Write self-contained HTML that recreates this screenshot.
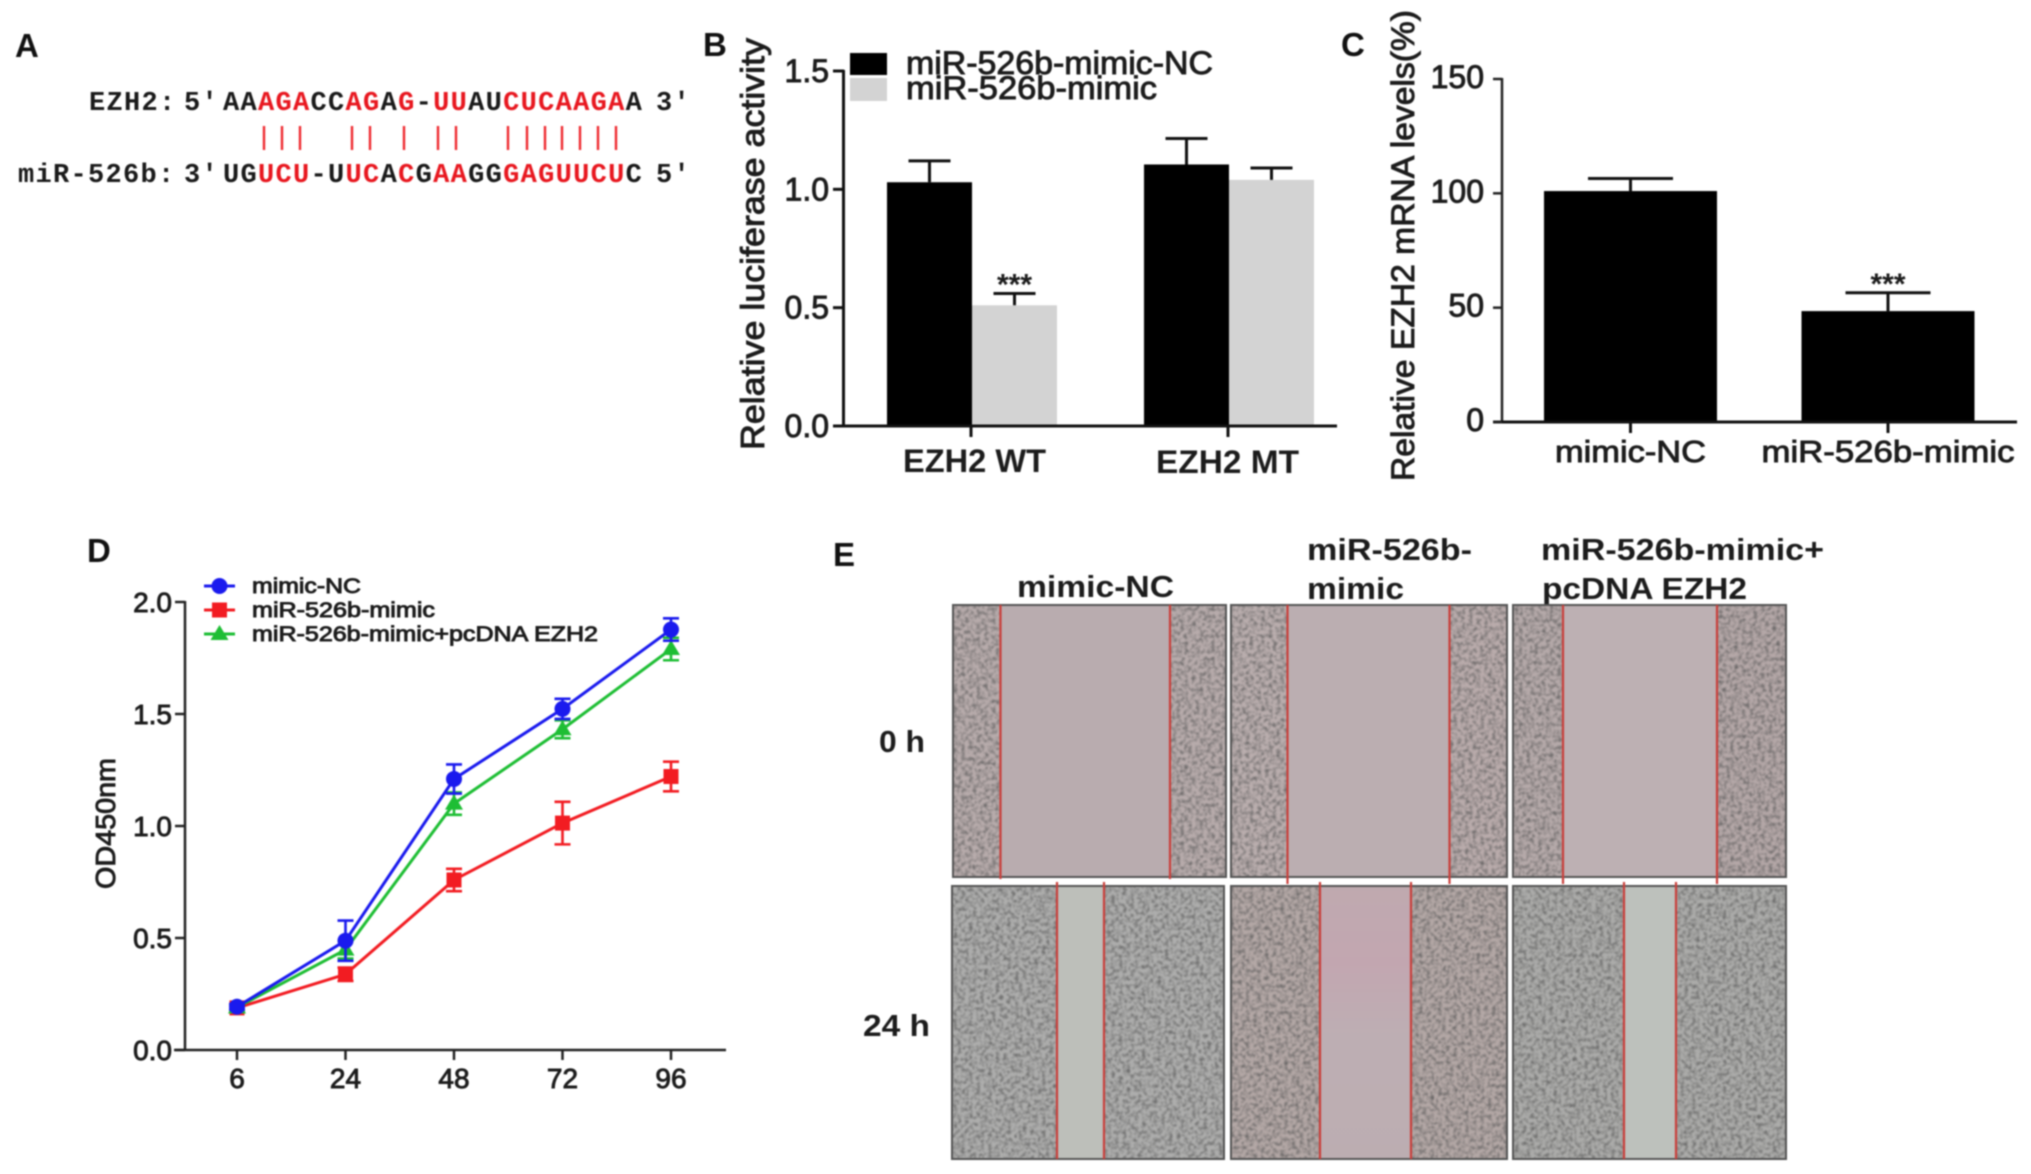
<!DOCTYPE html>
<html lang="en">
<head>
<meta charset="utf-8">
<title>EZH2 / miR-526b figure</title>
<style>
html,body{margin:0;padding:0;background:#fff;}
#figure{display:block;width:2031px;height:1174px;filter:blur(.7px);font-family:"Liberation Sans",sans-serif;}
text{font-family:"Liberation Sans",sans-serif;fill:#1c1c1c;}
.med{stroke:#1c1c1c;stroke-width:.9px;}
.seq{font-family:"Liberation Mono",monospace;font-size:27px;font-weight:700;letter-spacing:1.3px;fill:#1a1a1a;}
.seq tspan.r{fill:#e8171f;}
.panel{font-size:33px;font-weight:700;fill:#111;}
.hdr{font-size:31px;font-weight:700;}
.red{stroke:#c9403c;stroke-width:2.2;}
</style>
</head>
<body>
<svg id="figure" xmlns="http://www.w3.org/2000/svg" width="2031" height="1174" viewBox="0 0 2031 1174">
<defs>
<filter id="grain" x="0" y="0" width="100%" height="100%" color-interpolation-filters="sRGB">
<feTurbulence type="fractalNoise" baseFrequency="0.26" numOctaves="2" seed="4"/>
<feColorMatrix values="0 0 0 0 .33  0 0 0 0 .33  0 0 0 0 .33  1.7 0 0 0 -.68"/>
<feGaussianBlur stdDeviation=".5"/>
</filter>
<linearGradient id="pink-wound" x1="0" y1="0" x2="0" y2="1">
<stop offset="0" stop-color="#bfa9af"/><stop offset=".28" stop-color="#c2a6b0"/><stop offset=".55" stop-color="#bdaeb3"/><stop offset="1" stop-color="#bcadb1"/>
</linearGradient>
</defs>
<rect width="2031" height="1174" fill="#fff"/>

<g>
<text class="panel" x="15" y="57">A</text>
<text class="seq" x="89" y="110">EZH2:</text>
<text class="seq" x="184" y="110">5'</text>
<text class="seq" x="223" y="110">AA<tspan class="r">AGA</tspan>CC<tspan class="r">AG</tspan>A<tspan class="r">G</tspan>-<tspan class="r">UU</tspan>AU<tspan class="r">CUCAAGA</tspan>A</text>
<text class="seq" x="656" y="110">3'</text>
<g stroke="#ee2a30" stroke-width="2.4">
<line x1="264" y1="126" x2="264" y2="150"/><line x1="282" y1="126" x2="282" y2="150"/><line x1="300" y1="126" x2="300" y2="150"/>
<line x1="352" y1="126" x2="352" y2="150"/><line x1="370" y1="126" x2="370" y2="150"/><line x1="404" y1="126" x2="404" y2="150"/>
<line x1="438" y1="126" x2="438" y2="150"/><line x1="456" y1="126" x2="456" y2="150"/><line x1="508" y1="126" x2="508" y2="150"/>
<line x1="527" y1="126" x2="527" y2="150"/><line x1="545" y1="126" x2="545" y2="150"/><line x1="562" y1="126" x2="562" y2="150"/>
<line x1="580" y1="126" x2="580" y2="150"/><line x1="598" y1="126" x2="598" y2="150"/><line x1="616" y1="126" x2="616" y2="150"/>
</g>
<text class="seq" x="18" y="182">miR-526b:</text>
<text class="seq" x="184" y="182">3'</text>
<text class="seq" x="223" y="182">UG<tspan class="r">UCU</tspan>-U<tspan class="r">UC</tspan>A<tspan class="r">C</tspan>G<tspan class="r">AA</tspan>GG<tspan class="r">GAGUUCU</tspan>C</text>
<text class="seq" x="656" y="182">5'</text>
</g>

<g id="panel-b"></g>
<g id="panel-c"></g>
<g id="panel-d"></g>

<g>
<text class="panel" x="833" y="566">E</text>
<text class="hdr" x="1017" y="597" textLength="157" lengthAdjust="spacingAndGlyphs">mimic-NC</text>
<text class="hdr" x="1307" y="560" textLength="165" lengthAdjust="spacingAndGlyphs">miR-526b-</text>
<text class="hdr" x="1307" y="599" textLength="97" lengthAdjust="spacingAndGlyphs">mimic</text>
<text class="hdr" x="1541" y="560" textLength="283" lengthAdjust="spacingAndGlyphs">miR-526b-mimic+</text>
<text class="hdr" x="1542" y="599" textLength="205" lengthAdjust="spacingAndGlyphs">pcDNA EZH2</text>
<text class="hdr" x="879" y="752" textLength="46" lengthAdjust="spacingAndGlyphs">0 h</text>
<text class="hdr" x="863" y="1036" textLength="67" lengthAdjust="spacingAndGlyphs">24 h</text>

<g>
<rect x="953" y="605" width="273" height="272" fill="#b9acaf"/>
<rect x="953" y="605" width="47" height="272" fill="#b8acac"/><rect x="953" y="605" width="47" height="272" filter="url(#grain)"/>
<rect x="1170" y="605" width="56" height="272" fill="#b8acac"/><rect x="1170" y="605" width="56" height="272" filter="url(#grain)"/>
<rect x="953" y="605" width="273" height="272" fill="none" stroke="#555" stroke-width="2"/>
<line class="red" x1="1000.5" y1="605" x2="1000.5" y2="879"/><line class="red" x1="1170" y1="605" x2="1170" y2="879"/>
</g>
<g>
<rect x="1231" y="605" width="276" height="272" fill="#bbaeb1"/>
<rect x="1231" y="605" width="57" height="272" fill="#baaeae"/><rect x="1231" y="605" width="57" height="272" filter="url(#grain)"/>
<rect x="1450" y="605" width="57" height="272" fill="#baacac"/><rect x="1450" y="605" width="57" height="272" filter="url(#grain)"/>
<rect x="1231" y="605" width="276" height="272" fill="none" stroke="#555" stroke-width="2"/>
<line class="red" x1="1287.5" y1="605" x2="1287.5" y2="884"/><line class="red" x1="1449.5" y1="605" x2="1449.5" y2="884"/>
</g>
<g>
<rect x="1513" y="605" width="273" height="272" fill="#bdb0b3"/>
<rect x="1513" y="605" width="50" height="272" fill="#b6aaaa"/><rect x="1513" y="605" width="50" height="272" filter="url(#grain)"/>
<rect x="1717" y="605" width="69" height="272" fill="#b5a8a8"/><rect x="1717" y="605" width="69" height="272" filter="url(#grain)"/>
<rect x="1513" y="605" width="273" height="272" fill="none" stroke="#555" stroke-width="2"/>
<line class="red" x1="1563" y1="605" x2="1563" y2="884"/><line class="red" x1="1717" y1="605" x2="1717" y2="884"/>
</g>
<g>
<rect x="952" y="886" width="272" height="273" fill="#aeaead"/><rect x="952" y="886" width="105" height="273" filter="url(#grain)"/><rect x="1104" y="886" width="120" height="273" filter="url(#grain)"/>
<rect x="1057" y="886" width="47" height="273" fill="#bdbfba"/>
<rect x="952" y="886" width="272" height="273" fill="none" stroke="#555" stroke-width="2"/>
<line class="red" x1="1057" y1="882" x2="1057" y2="1159"/><line class="red" x1="1104" y1="882" x2="1104" y2="1159"/>
</g>
<g>
<rect x="1231" y="886" width="276" height="273" fill="#b4a8a6"/><rect x="1231" y="886" width="89" height="273" filter="url(#grain)"/><rect x="1411" y="886" width="96" height="273" filter="url(#grain)"/>
<rect x="1320" y="886" width="91" height="273" fill="url(#pink-wound)"/>
<rect x="1231" y="886" width="276" height="273" fill="none" stroke="#555" stroke-width="2"/>
<line class="red" x1="1320" y1="882" x2="1320" y2="1159"/><line class="red" x1="1411" y1="882" x2="1411" y2="1159"/>
</g>
<g>
<rect x="1513" y="886" width="273" height="273" fill="#acacaa"/><rect x="1513" y="886" width="111" height="273" filter="url(#grain)"/><rect x="1676" y="886" width="110" height="273" filter="url(#grain)"/>
<rect x="1624" y="886" width="52" height="273" fill="#bdc1bc"/>
<rect x="1513" y="886" width="273" height="273" fill="none" stroke="#555" stroke-width="2"/>
<line class="red" x1="1624" y1="882" x2="1624" y2="1159"/><line class="red" x1="1676" y1="882" x2="1676" y2="1159"/>
</g>
</g>
</svg>

<script>
// Panel B data
const bGroups = ['EZH2 WT', 'EZH2 MT'];
const bNames = ['miR-526b-mimic-NC', 'miR-526b-mimic'];
const bNC = [1.03, 1.105];
const bNCErr = [0.09, 0.11];
const bMimic = [0.51, 1.04];
const bMimicErr = [0.05, 0.05];
const bTicks = [0, 0.5, 1.0, 1.5];
const bStars = ['***', ''];

// Panel C data
const cCategories = ['mimic-NC', 'miR-526b-mimic'];
const cValues = [101, 48.5];
const cErr = [5.5, 8];
const cTicks = [0, 50, 100, 150];
const cStars = ['', '***'];

// Panel D data
const dHours = ['6', '24', '48', '72', '96'];
const dBlue = [0.193, 0.488, 1.21, 1.523, 1.877];
const dBlueErr = [0.012, 0.09, 0.065, 0.045, 0.05];
const dRed = [0.188, 0.338, 0.759, 1.013, 1.221];
const dRedErr = [0.012, 0.03, 0.05, 0.095, 0.066];
const dGreen = [0.19, 0.448, 1.10, 1.432, 1.79];
const dGreenErr = [0.012, 0.04, 0.05, 0.04, 0.05];
const dTicks = [0, 0.5, 1.0, 1.5, 2.0];

const NS = 'http://www.w3.org/2000/svg';
function mk(parent, tag, attrs, txt) {
  const el = document.createElementNS(NS, tag);
  for (const k in attrs) el.setAttribute(k, attrs[k]);
  if (txt !== undefined) el.textContent = txt;
  parent.appendChild(el);
  return el;
}
function line(parent, x1, y1, x2, y2, stroke, w) {
  return mk(parent, 'line', {x1: x1, y1: y1, x2: x2, y2: y2, stroke: stroke, 'stroke-width': w});
}

/* ---------- Panel B ---------- */
(function () {
  const g = document.getElementById('panel-b');
  const y = v => 426 - v / 1.5 * 355;
  const groupX = i => 972 + i * 257;
  const barW = 85;
  const label = mk(g, 'text', {x: 703, y: 56, class: 'panel'}, 'B');
  
  

  const title = mk(g, 'text', {x: 764, y: 450, transform: 'rotate(-90 764 450)', 'font-size': 33, textLength: 412, lengthAdjust: 'spacingAndGlyphs', class: 'med'}, 'Relative luciferase activity');
  
  

  bGroups.forEach((name, i) => {
    const x0 = groupX(i);
    const b1 = mk(g, 'rect', {x: x0 - barW, y: y(bNC[i]), width: barW, height: 426 - y(bNC[i]), fill: '#000'});
    
    
    const e1 = mk(g, 'path', {d: 'M' + (x0 - barW / 2) + ' ' + y(bNC[i]) + 'V' + y(bNC[i] + bNCErr[i]) + 'm-21 0h42', stroke: '#111', 'stroke-width': 3, fill: 'none'});
    
    
    const b2 = mk(g, 'rect', {x: x0, y: y(bMimic[i]), width: barW, height: 426 - y(bMimic[i]), fill: '#d3d3d3'});
    
    
    const e2 = mk(g, 'path', {d: 'M' + (x0 + barW / 2) + ' ' + y(bMimic[i]) + 'V' + y(bMimic[i] + bMimicErr[i]) + 'm-21 0h42', stroke: '#111', 'stroke-width': 3, fill: 'none'});
    
    
    if (bStars[i]) {
      const s = mk(g, 'text', {x: x0 + barW / 2, y: y(bMimic[i] + bMimicErr[i]) + 1, 'text-anchor': 'middle', 'font-size': 30, 'font-weight': 700}, bStars[i]);
      
      
    }
    const t = mk(g, 'line', {x1: x0 - 1, y1: 426, x2: x0 - 1, y2: 437, stroke: '#111', 'stroke-width': 3});
    
    
    const tl = mk(g, 'text', {x: x0 + 2.5 - i * 4, y: 472 + i, 'text-anchor': 'middle', 'font-size': 32, 'font-weight': 700, textLength: 143, lengthAdjust: 'spacingAndGlyphs'}, name);
    
    
  });

  const ax = line(g, 843.5, 70, 843.5, 427, '#111', 3);
  
  
  const bx = line(g, 834, 426, 1337, 426, '#111', 3);
  
  

  bTicks.forEach(v => {
    const tk = line(g, 833, y(v), 844, y(v), '#111', 3);
    
    
    const tl = mk(g, 'text', {x: 829, y: y(v) + 11, 'text-anchor': 'end', 'font-size': 32, class: 'med'}, v.toFixed(1));
    
    
  });

  const swatch1 = mk(g, 'rect', {x: 850, y: 53, width: 37, height: 22, fill: '#000'});
  
  
  const swatch2 = mk(g, 'rect', {x: 850, y: 78, width: 37, height: 23, fill: '#d3d3d3'});
  
  
  const l1 = mk(g, 'text', {x: 906, y: 74, 'font-size': 32, textLength: 307, lengthAdjust: 'spacingAndGlyphs', class: 'med'}, bNames[0]);
  
  
  const l2 = mk(g, 'text', {x: 906, y: 99, 'font-size': 32, textLength: 251, lengthAdjust: 'spacingAndGlyphs', class: 'med'}, bNames[1]);
  
  
})();

/* ---------- Panel C ---------- */
(function () {
  const g = document.getElementById('panel-c');
  const y = v => 422 - v / 150 * 343;
  const catX = i => 1630.5 + i * 257.5;
  const barW = 173;
  const label = mk(g, 'text', {x: 1341, y: 56, class: 'panel'}, 'C');
  
  

  const title = mk(g, 'text', {x: 1414, y: 481, transform: 'rotate(-90 1414 481)', 'font-size': 32, textLength: 471, lengthAdjust: 'spacingAndGlyphs', class: 'med'}, 'Relative EZH2 mRNA levels(%)');
  
  

  cCategories.forEach((name, i) => {
    const cx = catX(i);
    const b = mk(g, 'rect', {x: cx - barW / 2, y: y(cValues[i]), width: barW, height: 422 - y(cValues[i]), fill: '#000'});
    
    
    const e = mk(g, 'path', {d: 'M' + cx + ' ' + y(cValues[i]) + 'V' + y(cValues[i] + cErr[i]) + 'm-42.5 0h85', stroke: '#111', 'stroke-width': 3, fill: 'none'});
    
    
    if (cStars[i]) {
      const s = mk(g, 'text', {x: cx, y: y(cValues[i] + cErr[i]) + 1, 'text-anchor': 'middle', 'font-size': 30, 'font-weight': 700}, cStars[i]);
      
      
    }
    const t = line(g, cx, 422, cx, 433, '#111', 3);
    
    
    const tl = mk(g, 'text', {x: cx, y: 462, 'text-anchor': 'middle', 'font-size': 31, class: 'med', textLength: i === 0 ? 151 : 253, lengthAdjust: 'spacingAndGlyphs'}, name);
    
    
  });

  const ax = line(g, 1502, 78, 1502, 423, '#222', 2.5);
  
  
  const bx = line(g, 1493, 422, 2017, 422, '#111', 3);
  
  

  cTicks.forEach(v => {
    const tk = line(g, 1493, y(v), 1502, y(v), '#222', 2.5);
    
    
    const tl = mk(g, 'text', {x: 1484, y: y(v) + 9, 'text-anchor': 'end', 'font-size': 32, class: 'med'}, String(v));
    
    
  });
})();

/* ---------- Panel D ---------- */
(function () {
  const g = document.getElementById('panel-d');
  const y = v => 1050 - v / 2 * 448;
  const x = i => 237 + i * 108.5;

  const label = mk(g, 'text', {x: 87, y: 562, class: 'panel'}, 'D');
  
  

  const title = mk(g, 'text', {x: 115, y: 889, transform: 'rotate(-90 115 889)', 'font-size': 28, textLength: 131, lengthAdjust: 'spacingAndGlyphs', class: 'med'}, 'OD450nm');
  
  

  const ax = line(g, 185, 601, 185, 1051, '#222', 2.5);
  
  
  const bx = line(g, 174, 1050, 726, 1050, '#222', 2.5);
  
  

  dTicks.forEach(v => {
    const tk = line(g, 175, y(v), 185, y(v), '#222', 2.5);
    
    
    const tl = mk(g, 'text', {x: 172, y: y(v) + 10, 'text-anchor': 'end', 'font-size': 28, class: 'med'}, v.toFixed(1));
    
    
  });

  dHours.forEach((h, i) => {
    const tk = line(g, x(i), 1050, x(i), 1060, '#222', 2.5);
    
    
    const tl = mk(g, 'text', {x: x(i), y: 1088, 'text-anchor': 'middle', 'font-size': 28, class: 'med'}, h);
    
    
  });

  function marker(parent, kind, cx, cy, col) {
    if (kind === 'circle') return mk(parent, 'circle', {cx: cx, cy: cy, r: 8, fill: col});
    if (kind === 'square') return mk(parent, 'rect', {x: cx - 7.5, y: cy - 7.5, width: 15, height: 15, fill: col});
    return mk(parent, 'path', {d: 'M' + cx + ' ' + (cy - 9) + 'l9 15h-18z', fill: col});
  }

  function drawSeries(name, vals, errs, col, kind) {
    const s = mk(g, 'g', {});
    
    
    const path = mk(s, 'polyline', {points: vals.map((v, i) => x(i) + ',' + y(v)).join(' '), fill: 'none', stroke: col, 'stroke-width': 3});
    
    
    vals.forEach((v, i) => {
      const e = mk(s, 'path', {d: 'M' + x(i) + ' ' + y(v - errs[i]) + 'V' + y(v + errs[i]) + 'M' + (x(i) - 8) + ' ' + y(v - errs[i]) + 'h16M' + (x(i) - 8) + ' ' + y(v + errs[i]) + 'h16', fill: 'none', stroke: col, 'stroke-width': 2.6});
      
      
      const m = marker(s, kind, x(i), y(v), col);
      
      
    });
  }
  drawSeries('mir-526b-mimic', dRed, dRedErr, '#f21c22', 'square');
  drawSeries('rescue', dGreen, dGreenErr, '#1ebe34', 'triangle');
  drawSeries('mimic-nc', dBlue, dBlueErr, '#1a1aee', 'circle');

  const legendNames = ['mimic-NC', 'miR-526b-mimic', 'miR-526b-mimic+pcDNA EZH2'];
  const legendCols = ['#1a1aee', '#f21c22', '#1ebe34'];
  const legendKinds = ['circle', 'square', 'triangle'];
  const legendLens = [109, 183, 346];
  legendNames.forEach((n, i) => {
    const ly = 586 + i * 24;
    const entry = mk(g, 'g', {});
    
    
    line(entry, 204, ly, 235, ly, legendCols[i], 3);
    marker(entry, legendKinds[i], 219.5, ly, legendCols[i]);
    mk(entry, 'text', {x: 252, y: ly + 7, 'font-size': 21, textLength: legendLens[i], lengthAdjust: 'spacingAndGlyphs', class: 'med'}, n);
  });
})();
</script>
</body>
</html>
